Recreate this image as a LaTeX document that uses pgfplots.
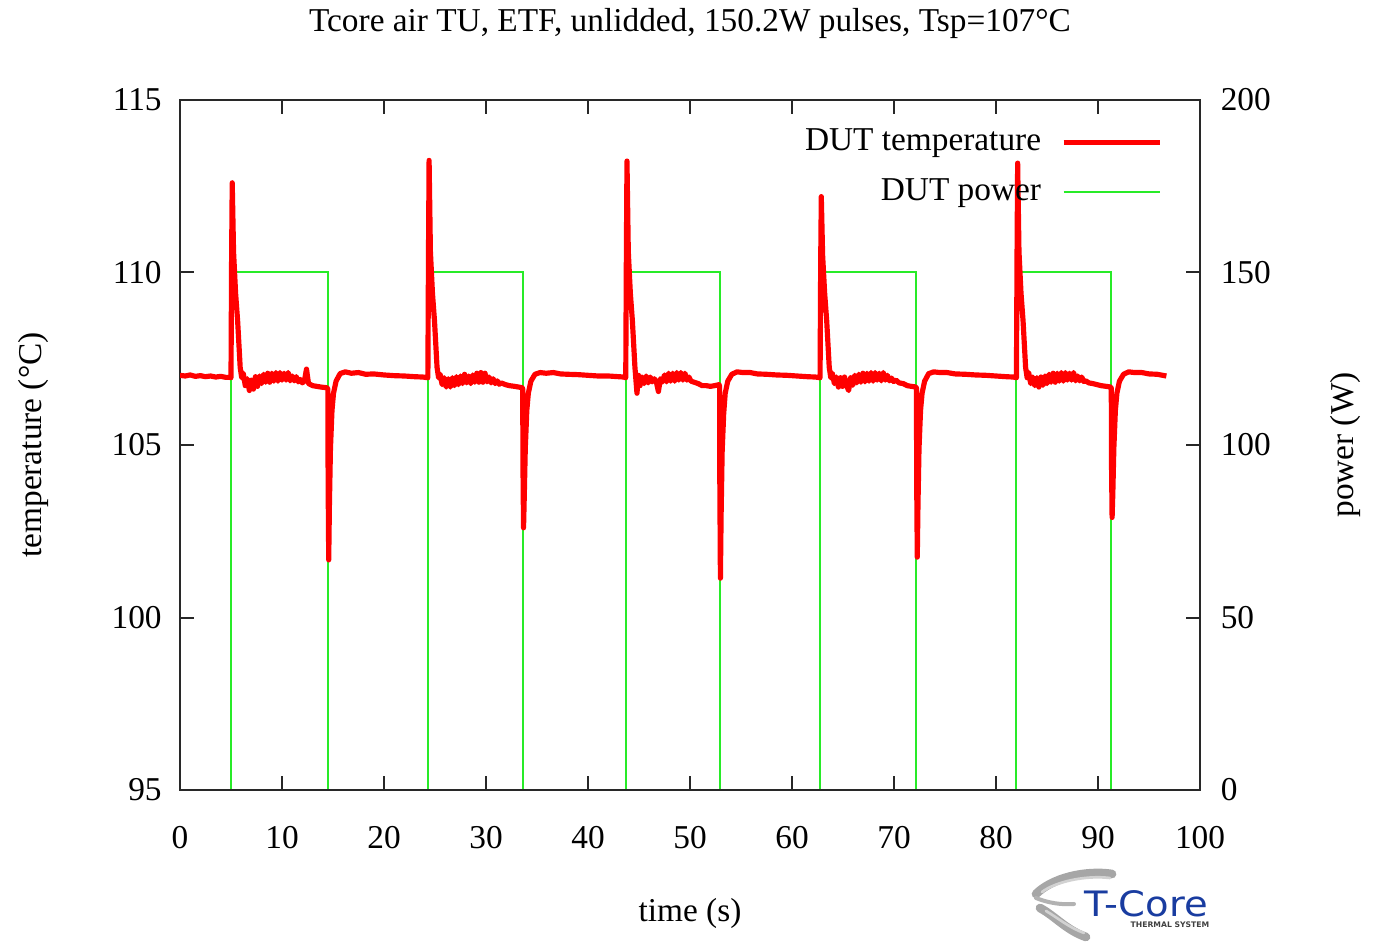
\documentclass[border=0pt]{standalone}
\usepackage{fontspec}
\setmainfont{Liberation Serif}
\newfontfamily\logofont{DejaVu Sans}
\usepackage{pgfplots}
\pgfplotsset{compat=1.18}

\definecolor{tempred}{RGB}{255,0,0}
\definecolor{powgreen}{RGB}{40,235,40}
\definecolor{framegray}{RGB}{40,40,40}
\definecolor{logoblue}{RGB}{25,60,160}

% DUT temperature (degC) over time (s)
\pgfplotstableread{
t T
0 107.02
0.5 107.00
1.0 107.03
1.5 106.99
2.0 107.01
2.5 106.98
3.0 107.00
3.5 106.97
4.0 106.99
4.5 106.96
4.9 106.96
5.0 106.95
5.06 110.5
5.12 112.6
5.25 110.6
5.45 109.4
5.65 108.6
5.9 107.25
6.05 106.95
6.2 107.08
6.4 106.72
6.6 106.92
6.8 106.58
7.0 106.88
7.2 106.62
7.4 106.98
7.6 106.7
7.8 107.0
8.0 106.78
8.2 107.05
8.4 106.82
8.6 107.08
8.8 106.82
9.0 107.08
9.2 106.85
9.4 107.1
9.6 106.85
9.8 107.1
10.0 106.88
10.2 107.08
10.4 106.88
10.6 107.1
10.8 106.86
11.0 107.0
11.2 106.86
11.4 106.98
11.6 106.83
11.8 106.9
12.0 106.8
12.2 106.86
12.4 107.2
12.6 106.78
12.8 106.75
13.0 106.72
13.4 106.7
13.8 106.68
14.4 106.66
14.5 106.62
14.52 104.0
14.58 101.67
14.65 103.3
14.75 104.9
14.9 106.0
15.05 106.5
15.3 106.85
15.7 107.07
16.2 107.12
16.8 107.08
17.5 107.1
18.2 107.05
19.0 107.06
20.0 107.03
21.0 107.01
22.0 107.0
23.0 106.98
23.8 106.97
24.3 106.95
24.36 110.5
24.42 113.25
24.55 110.6
24.75 109.4
24.95 108.6
25.2 107.25
25.35 106.95
25.5 107.05
25.7 106.75
25.9 106.95
26.1 106.68
26.3 106.92
26.5 106.68
26.7 106.95
26.9 106.72
27.1 106.98
27.3 106.75
27.5 107.0
27.7 106.78
27.9 107.05
28.1 106.8
28.3 107.0
28.5 106.78
28.7 107.03
28.9 106.82
29.1 107.08
29.3 106.82
29.5 107.1
29.7 106.82
29.9 107.08
30.1 106.83
30.3 106.97
30.5 106.8
30.7 106.92
30.9 106.78
31.1 106.86
31.3 106.76
31.5 106.8
31.9 106.75
32.3 106.72
32.8 106.7
33.2 106.68
33.55 106.66
33.6 106.62
33.62 104.5
33.68 102.6
33.75 103.5
33.85 104.9
34.0 106.0
34.15 106.5
34.4 106.85
34.8 107.05
35.3 107.1
35.9 107.08
36.6 107.1
37.3 107.06
38.0 107.05
39.0 107.04
40.0 107.02
41.0 107.0
42.0 107.0
43.0 106.98
43.5 106.97
43.7 106.95
43.76 110.5
43.82 113.23
43.95 110.6
44.15 109.4
44.35 108.6
44.6 107.25
44.8 106.5
44.95 107.02
45.1 106.72
45.3 106.97
45.5 106.78
45.7 107.0
45.9 106.8
46.1 106.97
46.3 106.83
46.5 106.92
46.7 106.83
46.9 106.55
47.1 106.92
47.3 106.83
47.5 107.03
47.7 106.83
47.9 107.08
48.1 106.85
48.3 107.08
48.5 106.85
48.7 107.1
48.9 106.88
49.1 107.1
49.3 106.88
49.5 107.08
49.7 106.88
49.9 106.97
50.1 106.85
50.4 106.82
50.8 106.78
51.2 106.72
51.6 106.72
52.0 106.7
52.4 106.72
52.85 106.75
52.9 106.7
52.92 104.0
52.98 101.14
53.05 103.0
53.15 104.8
53.3 105.9
53.45 106.5
53.7 106.85
54.1 107.05
54.6 107.12
55.2 107.1
55.9 107.1
56.6 107.06
57.5 107.05
58.5 107.03
59.5 107.02
60.5 107.0
61.5 106.98
62.3 106.97
62.75 106.95
62.81 110.3
62.87 112.2
63.0 110.5
63.2 109.4
63.4 108.6
63.65 107.25
63.8 106.95
63.95 107.08
64.15 106.78
64.35 106.97
64.55 106.68
64.75 106.95
64.95 106.7
65.15 106.97
65.35 106.72
65.55 106.58
65.75 106.95
65.95 106.73
66.15 107.02
66.35 106.8
66.55 107.05
66.75 106.82
66.95 107.08
67.15 106.83
67.35 107.08
67.55 106.85
67.75 107.1
67.95 106.85
68.15 107.1
68.35 106.88
68.55 107.08
68.75 106.86
68.95 107.1
69.15 106.88
69.35 107.02
69.55 106.86
69.75 106.94
69.95 106.84
70.2 106.88
70.5 106.8
70.9 106.78
71.3 106.72
71.7 106.7
72.15 106.68
72.2 106.64
72.22 104.0
72.28 101.75
72.35 103.3
72.45 104.9
72.6 106.0
72.75 106.5
73.0 106.85
73.4 107.07
73.9 107.12
74.5 107.1
75.2 107.1
76.0 107.06
77.0 107.05
78.0 107.03
79.0 107.02
80.0 107.0
81.0 106.98
81.7 106.97
82.0 106.95
82.06 110.5
82.12 113.17
82.25 110.6
82.45 109.4
82.65 108.6
82.9 107.25
83.05 106.95
83.2 107.1
83.4 106.78
83.6 106.97
83.8 106.72
84.0 106.95
84.2 106.68
84.4 106.97
84.6 106.73
84.8 107.0
85.0 106.78
85.2 107.05
85.4 106.82
85.6 107.08
85.8 106.82
86.0 107.08
86.2 106.85
86.4 107.1
86.6 106.85
86.8 107.1
87.0 106.88
87.2 107.08
87.4 106.88
87.6 107.1
87.8 106.86
88.0 107.0
88.2 106.86
88.4 106.97
88.6 106.84
88.8 106.86
89.1 106.8
89.5 106.78
89.9 106.75
90.3 106.72
90.8 106.7
91.25 106.68
91.3 106.64
91.32 104.5
91.38 102.9
91.45 103.6
91.55 104.9
91.7 106.0
91.85 106.5
92.1 106.85
92.5 107.05
93.0 107.12
93.6 107.1
94.3 107.1
95.0 107.06
95.8 107.05
96.7 107.0
}\temptable

% DUT power (W) over time (s)
\pgfplotstableread{
t P
0 0
5.0 0
5.0 150.2
14.5 150.2
14.5 0
24.3 0
24.3 150.2
33.6 150.2
33.6 0
43.7 0
43.7 150.2
52.9 150.2
52.9 0
62.75 0
62.75 150.2
72.2 150.2
72.2 0
82.0 0
82.0 150.2
91.3 150.2
91.3 0
96.7 0
}\powertable

\pgfplotsset{
  common/.style={
    scale only axis, width=306bp, height=207bp,
    xmin=0, xmax=100,
    tick align=inside,
    major tick length=4.3bp,
    axis line style={framegray, line width=0.6bp},
    every tick/.style={framegray, line width=0.6bp},
    tick label style={font=\fontsize{10bp}{12bp}\selectfont},
    /pgf/number format/assume math mode=true,
  }
}

\begin{document}
\begin{tikzpicture}
% right axis: power
\begin{axis}[common,
  ymin=0, ymax=200, ytick={0,50,...,200},
  axis x line=none, axis y line*=right,
  ytick align=inside,
  yticklabel style={xshift=2.7bp},
]
\addplot[powgreen, line width=0.6bp] table[x=t, y=P] {\powertable};
\end{axis}
% left axis: temperature
\begin{axis}[common,
  ymin=95, ymax=115, ytick={95,100,...,115},
  xtick={0,10,...,100},
  ytick pos=left, xtick pos=both,
  yticklabel style={xshift=-2bp},
  xticklabel style={yshift=-7.5bp},
  legend cell align=right,
  legend plot pos=right,
  legend image code/.code={\draw[#1] (0bp,0bp) -- (29bp,0bp);},
  legend style={at={(rel axis cs:0.974,0.971)}, anchor=north east,
    draw=none, fill=none, font=\fontsize{10bp}{12bp}\selectfont,
    row sep=5.9bp, column sep=6bp,
    nodes={inner sep=0pt, text height=7bp, text depth=2bp}},
]
\addplot[tempred, line width=1.55bp, line join=round] table[x=t, y=T] {\temptable};
\addlegendentry{DUT temperature}
\addlegendimage{powgreen, line width=0.6bp}
\addlegendentry{DUT power}
\coordinate (O) at (rel axis cs:0,0);
\end{axis}

% page layout in pixel units, origin at the top-left corner
\begin{scope}[shift={(O)}, xshift=-54bp, yshift=237bp, x=0.3bp, y=-0.3bp,
  every node/.style={font=\fontsize{10bp}{12bp}\selectfont}]
  \node at (690,23) {Tcore air TU, ETF, unlidded, 150.2W pulses, Tsp=107°C};
  \node[rotate=90] at (33,445) {temperature (°C)};
  \node[rotate=90] at (1345,445) {power (W)};
  \node at (690,913) {time (s)};

  % T-Core logo
  \draw[gray!70, line width=2.6bp, line cap=round]
    (1112,874) .. controls (1085,870) and (1052,878) .. (1036,894);
  \draw[gray!35, line width=0.8bp, line cap=round]
    (1110,878) .. controls (1085,875) and (1055,882) .. (1042,892);
  \draw[gray!60, line width=1.2bp, line cap=round]
    (1036,898) .. controls (1048,903) and (1062,905) .. (1074,904);
  \draw[gray!70, line width=2.6bp, line cap=round]
    (1040,908) .. controls (1055,916) and (1066,930) .. (1086,937);
  \draw[gray!35, line width=0.8bp, line cap=round]
    (1046,911) .. controls (1058,918) and (1068,927) .. (1084,933);
  \node[anchor=base west, inner sep=0pt, text=logoblue, xscale=1.1,
    font=\logofont\fontsize{10.5bp}{11bp}\selectfont] at (1084,917) {T-Core};
  \node[anchor=north, inner sep=0pt, text=black!75,
    font=\logofont\bfseries\fontsize{2.3bp}{2.5bp}\selectfont] at (1170,921) {THERMAL SYSTEM};

  \pgfresetboundingbox
  \path (0,0) rectangle (1386,943);
\end{scope}
\end{tikzpicture}
\end{document}
